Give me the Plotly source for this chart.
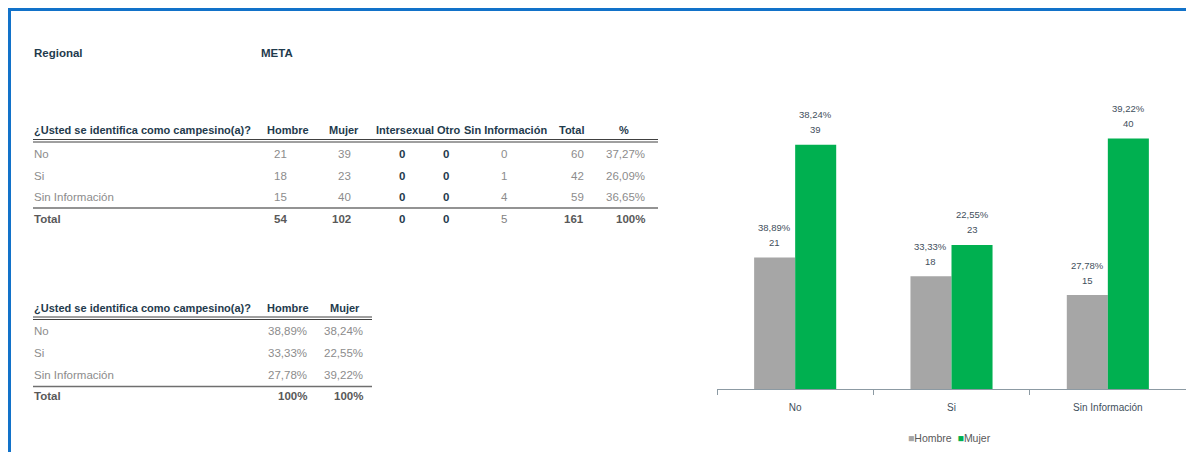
import plotly.graph_objects as go

# ---------------- data ----------------
categories = ["No", "Si", "Sin Información"]
hombre = [21, 18, 15]
mujer = [39, 23, 40]
intersexual = [0, 0, 0]
otro = [0, 0, 0]
sin_info = [0, 1, 4]
region_label = "Regional"
region_value = "META"
question = "¿Usted se identifica como campesino(a)?"
headers1 = ["Hombre", "Mujer", "Intersexual", "Otro", "Sin Información", "Total", "%"]
headers2 = ["Hombre", "Mujer"]
total_label = "Total"
series_names = ["Hombre", "Mujer"]


def fmt_pct(v):
    return f"{v:.2f}".replace(".", ",") + "%"


row_total = [h + m + i + o + s for h, m, i, o, s in zip(hombre, mujer, intersexual, otro, sin_info)]
grand_total = sum(row_total)
row_pct = [fmt_pct(100 * t / grand_total) for t in row_total]
hombre_pct = [fmt_pct(100 * v / sum(hombre)) for v in hombre]
mujer_pct = [fmt_pct(100 * v / sum(mujer)) for v in mujer]

# ---------------- styling ----------------
OFF = 8                      # page body margin
W, H = 1194 - OFF, 452 - OFF
FONT = "Liberation Sans, Arial, sans-serif"
C_HEAD = "#1F3B4D"
C_BODY = "#8C8C8C"
C_TOT = "#595959"
C_LABEL = "#3F4F5C"
GRAY_BAR = "#A6A6A6"
GREEN_BAR = "#00B050"
BORDER = "#1272C9"


def px(x):
    return (x - OFF) / W


def py(y):
    return 1 - (y - OFF) / H


annotations = []
shapes = []


def txt(x, y, s, anchor="left", size=11.5, color=C_BODY, bold=False):
    annotations.append(dict(
        x=px(x), y=py(y), xref="paper", yref="paper",
        text=f"<b>{s}</b>" if bold else str(s),
        showarrow=False, xanchor=anchor, yanchor="middle",
        font=dict(family=FONT, size=size, color=color), borderpad=0,
    ))


def hline(x0, x1, y, color, width):
    shapes.append(dict(type="line", xref="paper", yref="paper",
                       x0=px(x0), x1=px(x1), y0=py(y), y1=py(y),
                       line=dict(color=color, width=width)))


# border (top and left)
shapes.append(dict(type="line", xref="paper", yref="paper", x0=0, x1=px(1189), y0=1 - 1.5 / H, y1=1 - 1.5 / H,
                   line=dict(color=BORDER, width=3)))
shapes.append(dict(type="line", xref="paper", yref="paper", x0=1.5 / W, x1=1.5 / W, y0=0, y1=1,
                   line=dict(color=BORDER, width=3)))

# title row
txt(33, 53, region_label, size=11.5, color=C_HEAD, bold=True)
txt(260, 53, region_value, size=11.5, color=C_HEAD, bold=True)

# ---------------- table 1 ----------------
LX = 33
HS = 11          # column header size
QS = 11          # question header size
hy1 = 130
rows1 = [154, 175.5, 197]
ty1 = 219
txt(LX, hy1, question, size=QS, color=C_HEAD, bold=True)
head_x1 = [287.5, 343.5, 404.5, 449, 505, 571, 624]
for x, h in zip(head_x1, headers1):
    txt(x, hy1, h, anchor="center", size=HS, color=C_HEAD, bold=True)
hline(LX, 658, 139.5, "#404040", 1)
hline(LX, 658, 142, "#404040", 1)
hline(LX, 658, 208, "#6F6F6F", 1.5)

for i, cat in enumerate(categories):
    y = rows1[i]
    txt(LX, y, cat)
    txt(288, y, hombre[i], anchor="right")
    txt(352, y, mujer[i], anchor="right")
    txt(402, y, intersexual[i], anchor="center", color=C_HEAD, bold=True)
    txt(446, y, otro[i], anchor="center", color=C_HEAD, bold=True)
    txt(504, y, sin_info[i], anchor="center")
    txt(585, y, row_total[i], anchor="right")
    txt(646, y, row_pct[i], anchor="right")

txt(LX, ty1, total_label, color=C_TOT, bold=True)
txt(288, ty1, sum(hombre), anchor="right", color=C_TOT, bold=True)
txt(352, ty1, sum(mujer), anchor="right", color=C_TOT, bold=True)
txt(402, ty1, sum(intersexual), anchor="center", color=C_HEAD, bold=True)
txt(446, ty1, sum(otro), anchor="center", color=C_HEAD, bold=True)
txt(504, ty1, sum(sin_info), anchor="center", color="#7F7F7F")
txt(585, ty1, grand_total, anchor="right", color=C_TOT, bold=True)
txt(646, ty1, "100%", anchor="right", color=C_TOT, bold=True)

# ---------------- table 2 ----------------
hy2 = 308
rows2 = [331, 353, 375]
ty2 = 396
txt(LX, hy2, question, size=QS, color=C_HEAD, bold=True)
txt(287.5, hy2, headers2[0], anchor="center", size=HS, color=C_HEAD, bold=True)
txt(344.5, hy2, headers2[1], anchor="center", size=HS, color=C_HEAD, bold=True)
hline(LX, 372, 317, "#404040", 1)
hline(LX, 372, 319.5, "#404040", 1)
hline(LX, 372, 386.5, "#6F6F6F", 1.5)
for i, cat in enumerate(categories):
    y = rows2[i]
    txt(LX, y, cat)
    txt(308, y, hombre_pct[i], anchor="right")
    txt(364, y, mujer_pct[i], anchor="right")
txt(LX, ty2, total_label, color=C_TOT, bold=True)
txt(308, ty2, "100%", anchor="right", color=C_TOT, bold=True)
txt(364, ty2, "100%", anchor="right", color=C_TOT, bold=True)

# ---------------- chart ----------------
BARGAP = 0.475
X0, X1 = 717, 1186
cat_px = (X1 - X0) / len(categories)
half_bar = cat_px * (1 - BARGAP) / 4   # offset of each bar centre from category centre

fig = go.Figure()
series = [(series_names[0], hombre, hombre_pct, GRAY_BAR, -half_bar),
          (series_names[1], mujer, mujer_pct, GREEN_BAR, half_bar)]
for name, vals, pcts, col, dx in series:
    fig.add_trace(go.Bar(name=name, x=categories, y=vals, marker_color=col,
                         marker_line_width=0, showlegend=False))
    for c, v, p in zip(categories, vals, pcts):
        for text, dy in ((str(v), 15), (p, 30)):
            annotations.append(dict(
                x=c, y=v, xref="x", yref="y", text=text, showarrow=False,
                xshift=dx, yshift=dy, xanchor="center", yanchor="middle",
                font=dict(family=FONT, size=9.5, color=C_LABEL),
            ))

# legend drawn as text row
legend_text = "  ".join(
    f"<span style='color:{col}'>■</span>{name}" for name, _, _, col, _ in series
)
annotations.append(dict(x=px(949), y=py(438), xref="paper", yref="paper", text=legend_text,
                        showarrow=False, xanchor="center", yanchor="middle",
                        font=dict(family=FONT, size=10.5, color="#595959")))

fig.update_layout(
    width=W, height=H,
    margin=dict(l=0, r=0, t=0, b=0),
    paper_bgcolor="white", plot_bgcolor="white",
    barmode="group", bargap=BARGAP, bargroupgap=0,
    font=dict(family=FONT, color=C_LABEL),
    xaxis=dict(domain=[px(X0), px(X1)], showline=True, linecolor="#8C9AA3", linewidth=1,
               ticks="outside", tickson="boundaries", ticklen=5, tickcolor="#8C9AA3",
               tickfont=dict(family=FONT, size=10, color=C_LABEL), ticklabelstandoff=9,
               showgrid=False, zeroline=False, fixedrange=True),
    yaxis=dict(domain=[py(389), py(107.1)], range=[0, 45], visible=False, fixedrange=True),
    showlegend=False,
    annotations=annotations,
    shapes=shapes,
)

fig.write_html("out.html")
